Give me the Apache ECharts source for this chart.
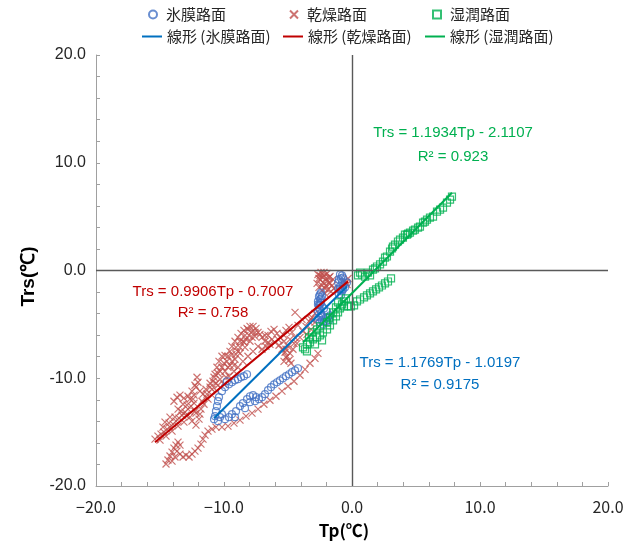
<!DOCTYPE html>
<html>
<head>
<meta charset="utf-8">
<script src="https://cdn.jsdelivr.net/npm/echarts@6/dist/echarts.min.js"></script>
<style>
  html, body { margin: 0; padding: 0; background: #ffffff; }
  #chart { width: 637px; height: 544px; }
</style>
</head>
<body>
<div id="chart"></div>
<script>
// Road surface temperature Trs vs. pavement temperature Tp (°C)
const seriesNames = ['氷膜路面', '乾燥路面', '湿潤路面'];
const trendNames = ['線形 (氷膜路面)', '線形 (乾燥路面)', '線形 (湿潤路面)'];

// Linear fits: Trs = slope * Tp + intercept
const slopes = [1.1769, 0.9906, 1.1934];
const intercepts = [-1.0197, -0.7007, -2.1107];
const r2Labels = ['0.9175', '0.758', '0.923'];

// 氷膜路面 (ice film)
const iceTp = [
  -10.78, -10.70, -10.63, -10.55, -10.47, -10.39, -10.31, -10.16, -10.47,
  -10.16, -9.92, -9.61, -9.38, -9.14, -8.91, -8.67, -8.44, -8.20, -9.77,
  -9.92, -9.61, -9.38, -9.06, -8.75, -8.52, -8.20, -7.97, -7.73, -7.50, -7.27, -7.03,
  -6.80, -6.56, -6.33, -6.09, -5.86, -5.63, -5.39, -5.16, -4.92, -4.69, -4.45, -4.22,
  -7.97, -7.58, -8.36, -9.14,
  -2.58, -2.50, -2.42, -2.58, -2.50, -2.42, -2.58, -2.34, -2.66, -2.50,
  -2.42, -2.34, -2.66, -2.34, -2.66, -2.34, -2.66, -2.50, -2.42, -2.50, -2.42, -2.58,
  -2.19, -1.95, -1.72, -2.03, -1.80, -2.19, -2.27, -2.03, -1.88,
  -0.94, -0.86, -0.78, -0.94, -0.86, -1.02, -0.70, -1.09,
  -0.78, -1.02, -0.70, -0.94, -0.78, -0.86, -1.09, -0.70,
  -0.55, -0.39
];
const iceTrs = [
  -13.80, -13.52, -13.06, -12.59, -12.13, -11.76, -13.61, -13.33, -13.98,
  -11.20, -10.83, -10.56, -10.37, -10.19, -10.09, -9.91, -9.81, -9.63, -10.28,
  -13.80, -13.61, -13.33, -13.06, -12.59, -12.31, -11.94, -11.67, -11.57, -11.76, -11.94, -11.76,
  -11.48, -11.11, -10.83, -10.56, -10.37, -10.19, -10.00, -9.81, -9.63, -9.44, -9.26, -9.07,
  -12.22, -12.13, -12.78, -13.61,
  -2.41, -2.69, -2.96, -3.24, -3.61, -3.98, -4.35, -4.63, -2.87, -2.22,
  -2.04, -2.41, -3.15, -3.33, -3.80, -4.17, -4.54, -4.81, -2.59, -3.15, -4.26, -3.52,
  -3.52, -3.80, -4.17, -4.35, -4.63, -4.72, -5.00, -4.72, -4.35,
  -0.37, -0.74, -1.11, -1.48, -1.85, -2.22, -0.65, -1.11,
  -0.46, -0.83, -1.39, -1.76, -1.94, -2.31, -1.67, -1.76,
  -1.57, -1.11
];

// 乾燥路面 (dry)
const dryTp = [
  -15.39, -15.16, -14.92, -14.69, -14.45, -14.22, -13.98, -13.75, -13.52, -13.28, -13.05, -12.81, -12.58, -12.34,
  -15.00, -14.53, -14.06, -13.59, -13.13, -12.66, -12.19, -14.77, -14.30, -13.83, -13.36, -12.89, -12.42,
  -14.53, -14.38, -14.22, -14.06, -13.91, -13.75, -13.59, -13.44, -13.67, -13.83, -14.06, -13.44, -13.20,
  -12.97, -12.73, -12.50, -12.27, -12.03, -11.80, -11.64, -11.48, -11.25, -10.94,
  -10.63, -10.16, -9.69, -9.22, -8.75, -8.28, -7.81, -7.34, -6.88, -6.41, -5.94, -5.47, -5.00, -4.53,
  -4.06, -3.67, -3.28, -2.89, -2.66,
  -13.91, -13.67, -13.44, -13.13, -12.81, -12.50, -12.19, -12.03, -12.11, -12.27, -11.88, -11.64, -11.41,
  -12.97, -12.50, -12.19, -11.95, -11.80, -11.56, -11.25, -10.94, -11.09, -10.86,
  -10.70, -10.55, -10.39, -10.16, -9.92, -9.69, -9.53, -9.38, -9.14, -8.91, -8.67, -8.44, -8.20, -7.97,
  -7.73, -7.50, -7.34, -7.81, -8.36, -8.75, -9.06, -9.38, -9.77, -10.16, -10.47, -10.78, -11.09,
  -10.31, -9.92, -9.53, -9.14, -8.75, -8.36, -7.97, -7.58, -7.19, -8.91, -8.52, -8.13, -7.73, -7.34,
  -9.61, -9.22, -10.00, -10.55, -11.33,
  -10.94, -10.63, -10.31, -10.00, -9.69, -9.38, -9.06, -8.75, -8.52, -8.28, -8.05, -7.81, -7.58, -8.13,
  -8.44, -8.91, -9.22, -9.84, -10.47, -11.72, -11.41, -12.34, -12.66, -13.20, -13.59, -14.22, -14.61,
  -11.88, -12.27,
  -7.03, -6.80, -6.56, -6.33, -6.09, -5.86, -5.63, -5.39, -5.16, -4.92, -4.69, -4.45,
  -7.03, -6.72, -6.41, -6.02, -5.70, -5.47, -5.23, -5.08, -4.92, -4.77, -5.31, -5.00, -4.61,
  -6.80, -6.25, -5.78, -5.31, -4.84, -4.53, -5.16, -4.84, -5.16, -6.56,
  -4.30, -4.06, -3.83, -3.59, -3.36, -3.13, -2.89, -4.22, -3.91, -4.45, -3.52, -3.20, -3.20, -2.89,
  -2.66, -2.42, -2.19, -1.95, -1.72, -1.48, -2.50, -2.27, -2.03, -1.80, -1.56, -2.58, -2.34, -2.11,
  -1.88, -1.64, -1.41, -2.73, -0.63, -0.39, -0.47, -0.31,
  -2.50, -2.27, -2.03, -1.80, -2.34, -2.11, -2.58, -1.72, -1.95, -2.19
];
const dryTrs = [
  -15.65, -15.37, -15.19, -15.00, -14.72, -14.54, -14.26, -13.98, -13.70, -13.43, -13.15, -12.87, -12.59, -12.31,
  -15.74, -15.37, -14.91, -14.44, -14.07, -13.61, -13.24, -14.54, -14.17, -13.61, -13.06, -12.50, -11.94,
  -17.96, -17.59, -17.22, -16.85, -16.48, -16.20, -15.93, -16.20, -16.76, -17.31, -17.69, -17.04, -17.31,
  -17.13, -17.31, -17.04, -16.76, -16.48, -16.11, -15.65, -15.28, -14.91, -14.72,
  -14.54, -14.54, -14.44, -14.17, -13.89, -13.52, -13.24, -12.87, -12.41, -12.04, -11.67, -11.20, -10.74, -10.28,
  -9.72, -9.17, -8.61, -8.15, -7.69,
  -12.13, -11.76, -11.57, -11.85, -11.67, -11.20, -10.83, -10.37, -9.91, -10.65, -11.20, -11.48, -11.02,
  -13.43, -13.98, -14.35, -13.80, -12.87, -12.41, -11.94, -11.57, -10.83, -10.28,
  -9.63, -8.98, -8.43, -7.96, -7.87, -7.96, -7.50, -7.04, -6.57, -6.20, -5.83, -5.56, -5.37, -5.19,
  -5.19, -5.37, -5.74, -5.65, -6.02, -6.57, -7.13, -7.78, -8.43, -8.98, -9.54, -9.91, -10.46,
  -10.09, -9.35, -8.80, -8.24, -7.69, -7.13, -6.57, -6.11, -5.93, -8.98, -8.43, -7.96, -7.50, -7.04,
  -9.81, -9.35, -10.56, -11.20, -11.48,
  -11.02, -10.46, -9.35, -8.61, -8.98, -8.43, -7.78, -7.13, -6.57, -6.39, -6.02, -6.20, -5.74, -5.46,
  -6.67, -7.50, -8.80, -9.91, -10.65, -12.13, -11.76, -11.57, -11.94, -12.41, -12.87, -13.61, -14.07,
  -13.33, -13.06,
  -6.20, -6.57, -6.02, -5.65, -5.46, -5.83, -6.20, -5.93, -5.56, -5.28, -5.74, -6.20,
  -7.31, -7.04, -6.85, -6.67, -6.94, -7.31, -7.59, -7.96, -8.33, -8.61, -8.43, -7.04, -7.31,
  -6.02, -6.39, -6.39, -6.57, -6.39, -6.76, -7.31, -7.69, -8.06, -6.67,
  -6.76, -6.20, -5.65, -5.19, -4.72, -4.35, -3.98, -5.09, -4.54, -3.89, -5.93, -5.46, -4.54, -4.81,
  -0.37, -0.19, -0.46, -0.28, -0.56, -0.83, -0.83, -1.11, -1.39, -1.11, -1.39, -1.57, -1.85, -2.13,
  -1.76, -1.94, -1.67, -1.20, -1.02, -1.30, -1.11, -0.74,
  -0.46, -0.65, -0.74, -0.65, -1.39, -1.67, -0.74, -1.20, -1.02, -0.19
];

// 湿潤路面 (wet)
const wetTp = [
  -3.83, -3.67, -3.52, -3.28, -3.05, -2.73, -2.50, -2.27, -1.95, -1.72, -1.48, -1.25, -1.09, -0.94,
  -0.78, -0.63, -0.47, -3.13, -2.73, -2.50, -1.95, -1.72, -1.48, -1.25, -1.09, -3.36, -2.89, -2.34, -3.52,
  -0.31, -0.08, 0.16, -0.63,
  0.39, 0.63, 0.94, 1.17, 1.41, 1.64, 1.88, 2.11, 2.34, 2.58, 2.81, 3.05,
  0.47, 0.63, 0.78, 1.02, 1.25, 1.41, 1.64, 1.95, 2.19, 2.42, 2.58, 2.73, 2.97, 3.20, 3.36, 3.59,
  3.75, 3.98, 4.14, 4.30, 4.53, 4.77, 4.92, 5.16, 5.31, 5.55, 5.86, 6.09, 6.33, 6.64, 6.88, 7.11,
  7.42, 7.66, 7.81, 1.80, 3.13, 4.38, 5.70
];
const wetTrs = [
  -7.13, -7.31, -6.85, -6.67, -6.39, -6.20, -6.02, -5.74, -5.46, -5.09, -4.63, -4.26, -3.89, -3.52,
  -3.15, -2.87, -2.59, -5.74, -5.46, -5.19, -4.81, -4.35, -3.89, -3.43, -2.96, -6.20, -6.85, -6.48, -7.50,
  -3.33, -3.33, -3.24, -3.33,
  -2.87, -2.69, -2.50, -2.31, -2.13, -1.94, -1.76, -1.57, -1.39, -1.20, -1.02, -0.74,
  -0.46, -0.19, -0.37, -0.56, -0.19, -0.46, 0.09, 0.37, 0.56, 0.83, 1.20, 1.30, 1.76, 2.22, 2.41, 2.69,
  2.87, 3.06, 3.33, 3.33, 3.52, 3.70, 3.80, 3.98, 4.07, 4.44, 4.72, 4.91, 5.00, 5.46, 5.65, 5.83,
  6.30, 6.57, 6.85, 0.19, 2.04, 3.43, 4.54
];

const pairs = (xs, ys) => xs.map((x, i) => [x, ys[i]]);
const fitLine = (k, xs) => {
  const x0 = Math.min(...xs), x1 = Math.max(...xs);
  return [[x0, slopes[k] * x0 + intercepts[k]], [x1, slopes[k] * x1 + intercepts[k]]];
};
const eqText = k => 'Trs = ' + slopes[k].toFixed(4) + 'Tp - ' + Math.abs(intercepts[k]).toFixed(4);

const markerColors = ['#4472C4', '#C0504D', '#00B050'];
const lineColors = ['#0070C0', '#C00000', '#00B050'];
const tpSets = [iceTp, dryTp, wetTp];

const chart = echarts.init(document.getElementById('chart'), null, { renderer: 'canvas' });

const labelFont = '"Liberation Sans", Arial, sans-serif';
const cjkFont = '"Noto Sans CJK JP", "Noto Sans", sans-serif';

const axisCommon = {
  min: -20, max: 20, interval: 10,
  axisLine: { show: true, onZero: false, lineStyle: { color: '#A0A0A0', width: 1 } },
  axisTick: { show: true, inside: true, length: 4, lineStyle: { color: '#A0A0A0' } },
  minorTick: { show: true, splitNumber: 5, length: 4, lineStyle: { color: '#A0A0A0' } },
  splitLine: { show: false }
};

// Equation and R² text next to each fitted line
const annotations = [
  { k: 1, x: 213, y: 292, y2: 313 },
  { k: 2, x: 453, y: 133, y2: 157 },
  { k: 0, x: 440, y: 363, y2: 385 }
];
const graphicTexts = [];
annotations.forEach(a => {
  graphicTexts.push({
    type: 'text', x: a.x, y: a.y, silent: true,
    style: { text: eqText(a.k), fill: lineColors[a.k], font: '15px ' + labelFont, align: 'center', verticalAlign: 'middle' }
  });
  graphicTexts.push({
    type: 'text', x: a.x, y: a.y2, silent: true,
    style: { text: 'R² = ' + r2Labels[a.k], fill: lineColors[a.k], font: '15px ' + labelFont, align: 'center', verticalAlign: 'middle' }
  });
});

// Legend: markers on the first row, fitted lines on the second
const legendText = { fontFamily: cjkFont, fontSize: 15, color: '#262626' };
const markerLegendLeft = [143, 284, 427];
const lineLegendLeft = [137, 278, 420];
const legends = [];
[0, 1, 2].forEach(k => {
  legends.push({
    data: [seriesNames[k]], left: markerLegendLeft[k], top: 2,
    itemWidth: 8, itemHeight: 8, textStyle: Object.assign({ padding: [0, 0, 0, 4] }, legendText)
  });
});
[0, 1, 2].forEach(k => {
  legends.push({
    data: [{ name: trendNames[k], icon: 'rect' }], left: lineLegendLeft[k], top: 24,
    itemWidth: 20, itemHeight: 2, textStyle: Object.assign({ padding: [0, 0, 0, 0] }, legendText)
  });
});

const option = {
  animation: false,
  backgroundColor: '#ffffff',
  grid: { left: 96, right: 29, top: 55, bottom: 57, containLabel: false },
  legend: legends,
  xAxis: Object.assign({}, axisCommon, {
    type: 'value',
    name: 'Tp(℃)', nameLocation: 'middle', nameGap: 36,
    nameTextStyle: { fontFamily: cjkFont, fontSize: 17, fontWeight: 'bold', color: '#000', padding: [0, 16, 0, 0] },
    axisLabel: {
      margin: 13, fontFamily: cjkFont, fontSize: 16, color: '#262626',
      formatter: v => (v < 0 ? '−' : '') + Math.abs(v).toFixed(1)
    }
  }),
  yAxis: Object.assign({}, axisCommon, {
    type: 'value',
    name: 'Trs(℃)', nameLocation: 'middle', nameGap: 58, nameRotate: 90,
    nameTextStyle: { fontFamily: labelFont, fontSize: 19, fontWeight: 'bold', color: '#000', padding: [0, 12, 0, 0] },
    axisLabel: {
      margin: 10, fontFamily: labelFont, fontSize: 16, color: '#262626',
      formatter: v => v.toFixed(1)
    }
  }),
  graphic: graphicTexts,
  series: [
    {
      name: seriesNames[1], type: 'scatter', data: pairs(dryTp, dryTrs),
      symbol: 'path://M0,0L10,10M10,0L0,10', symbolSize: 7,
      itemStyle: { color: 'rgba(0,0,0,0)', borderColor: markerColors[1], borderWidth: 1.2 },
      markLine: {
        silent: true, symbol: 'none', label: { show: false },
        lineStyle: { color: '#595959', width: 1.4, type: 'solid' },
        data: [{ xAxis: 0 }, { yAxis: 0 }]
      }
    },
    {
      name: seriesNames[0], type: 'scatter', data: pairs(iceTp, iceTrs),
      symbol: 'circle', symbolSize: 7,
      itemStyle: { color: 'rgba(0,0,0,0)', borderColor: markerColors[0], borderWidth: 1.2 }
    },
    {
      name: seriesNames[2], type: 'scatter', data: pairs(wetTp, wetTrs),
      symbol: 'rect', symbolSize: 7,
      itemStyle: { color: 'rgba(0,0,0,0)', borderColor: markerColors[2], borderWidth: 1.2 }
    }
  ].concat([0, 1, 2].map(k => ({
    name: trendNames[k], type: 'line', data: fitLine(k, tpSets[k]),
    symbol: 'none', z: 5,
    lineStyle: { color: lineColors[k], width: 2 },
    itemStyle: { color: lineColors[k] }
  })))
};

chart.setOption(option);
</script>
</body>
</html>
